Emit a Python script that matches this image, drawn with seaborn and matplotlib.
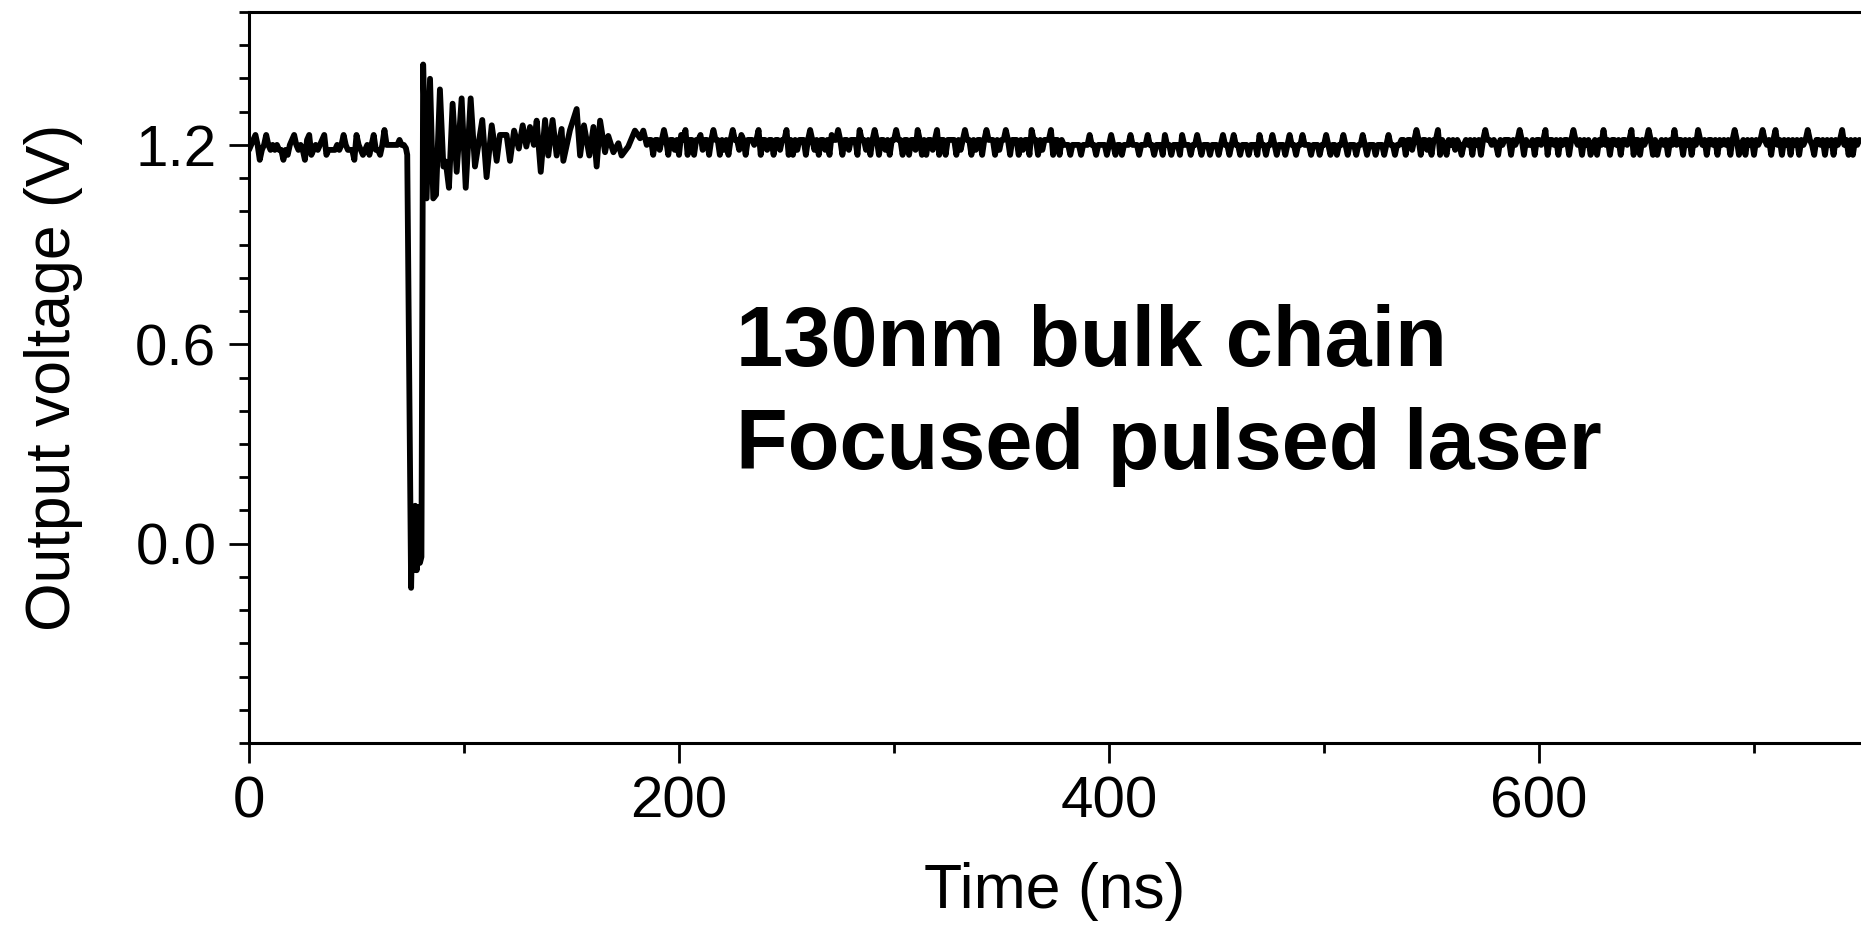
import numpy as np
import pandas as pd
import matplotlib
matplotlib.use("Agg")
import matplotlib.pyplot as plt
from matplotlib.ticker import MultipleLocator, FixedLocator
import seaborn as sns

# ---------------------------------------------------------------------------
# Oscilloscope record of the inverter-chain output (V) versus time (ns)
# Quiet baseline is stored as quantised levels, one character per ns:
#   level d  ->  1.155 + 0.015 * d  volts
# ---------------------------------------------------------------------------
LEVEL_BASE = 1.155
LEVEL_STEP = 0.015

pre_levels = (
    "2345302353" "2323220213" "4532320451" "2323451222"
    "2323532220" "5321231352" "2136333333" "433"
)  # t = 0 ... 72 ns

# Strike transient: drop, ringing and recovery
event_t = [73.0, 73.6, 75.4, 76.0, 76.6, 77.3, 78.0, 78.8, 79.5, 80.2,
           81.0, 82.6, 84.2, 85.7, 87.0, 88.8, 90.4, 91.5, 93.0, 94.7,
           96.6, 98.9, 100.8, 103.1, 105.1, 108.5, 110.5, 112.9, 115.2, 116.7,
           119.8, 121.4, 123.3, 125.5, 127.3, 129.0, 130.7, 132.5, 133.8, 135.7,
           137.7, 139.2, 141.2, 143.1, 145.4, 146.2, 149.3, 152.4, 154.0, 155.8,
           158.3, 160.2, 161.7, 163.3, 165.6, 167.1, 169.5, 171.8, 173.3, 176.4,
           179.5, 181.9, 183.4, 185.0]
event_v = [1.19, 1.17, -0.133, 0.071, -0.08, 0.114, -0.08, 0.11, -0.058, -0.04,
           1.442, 1.039, 1.399, 1.039, 1.05, 1.367, 1.135, 1.15, 1.071, 1.324,
           1.119, 1.34, 1.071, 1.34, 1.135, 1.275, 1.103, 1.259, 1.152, 1.23,
           1.23, 1.152, 1.243, 1.189, 1.259, 1.195, 1.254, 1.20, 1.273, 1.119,
           1.275, 1.168, 1.275, 1.168, 1.248, 1.152, 1.245, 1.308, 1.168, 1.259,
           1.168, 1.254, 1.135, 1.273, 1.178, 1.227, 1.178, 1.205, 1.168, 1.195,
           1.243, 1.22, 1.243, 1.20]

post_levels = (
    # 186 - 235
    "4414424641" "4424154614" "4144524414" "6441424146" "4425414443"
    # 236 - 285
    "4614424414" "4244614142" "4441464241" "4424154464" "1442444164"
    # 286 - 335
    "4241464144" "2414464414" "4144264141" "4424614414" "4441424644"
    # 336 - 385
    "1424414644" "4142446414" "4414244164" "4142444614" "4143331333"
    # 386 - 435
    "3133353313" "3331353133" "1333533313" "3353313331" "5331333153"
    # 436 - 485
    "3313353133" "3133313533" "1353313331" "3331533133" "5313331353"
    # 486 - 535
    "3133533313" "3313353133" "1335313331" "3353133313" "3313533133"
    # 536 - 585
    "4414424641" "4424144614" "3143424313" "4341434146" "4434314344"
    # 586 - 635
    "4143464143" "3414434614" "4341434414" "6434143413" "4143634144"
    # 636 - 685
    "3414434614" "4143464141" "3434143634" "4143414364" "3414434143"
    # 686 - 735
    "4341464134" "1434143464" "3414634143" "4143414346" "4314434143"
    # 736 - 749
    "41434634141434"
)
PRE_START = 0
POST_START = 186

x_ticks = [0, 200, 400, 600]
y_ticks = [0.0, 0.6, 1.2]
y_tick_labels = ["0.0", "0.6", "1.2"]
x_label = "Time (ns)"
y_label = "Output voltage (V)"
note_lines = ["130nm bulk chain", "Focused pulsed laser"]


def levels_to_volts(levels):
    return LEVEL_BASE + LEVEL_STEP * np.array([int(c) for c in levels], dtype=float)


t_pre = PRE_START + np.arange(len(pre_levels), dtype=float)
t_post = POST_START + np.arange(len(post_levels), dtype=float)

df = pd.DataFrame({
    "time": np.concatenate([t_pre, np.array(event_t), t_post]),
    "voltage": np.concatenate([levels_to_volts(pre_levels), np.array(event_v),
                               levels_to_volts(post_levels)]),
})

# ---------------------------------------------------------------------------
sns.set_style("ticks")
plt.rcParams["font.family"] = ["Liberation Sans", "DejaVu Sans"]
plt.rcParams["text.color"] = "black"
plt.rcParams["axes.labelcolor"] = "black"

W, H, DPI = 1861, 926, 100
fig = plt.figure(figsize=(W / DPI, H / DPI), dpi=DPI)
ax = fig.add_axes([249 / W, 1 - 743 / H, 1 - 249 / W, (743 - 12) / H])

sns.lineplot(data=df, x="time", y="voltage", ax=ax, color="black",
             linewidth=4.2, estimator=None, sort=False,
             solid_joinstyle="round", solid_capstyle="round")

ax.set_xlim(0, (W - 249) / 430 * 200)
ax.set_ylim(-0.6, 1.6)

ax.xaxis.set_major_locator(FixedLocator(x_ticks))
ax.xaxis.set_minor_locator(MultipleLocator(100))
ax.yaxis.set_major_locator(FixedLocator(y_ticks))
ax.set_yticklabels(y_tick_labels)
ax.yaxis.set_minor_locator(MultipleLocator(0.1))

ax.tick_params(axis="both", which="major", direction="out", length=14.5,
               width=2.0, labelsize=42, pad=9, color="black", labelcolor="black")
ax.tick_params(axis="both", which="minor", direction="out", length=7.5,
               width=2.0, color="black")

for side in ("left", "bottom", "top"):
    ax.spines[side].set_linewidth(2.2)
    ax.spines[side].set_color("black")
ax.spines["right"].set_visible(False)

ax.set_xlabel(x_label, fontsize=45, color="black")
ax.set_ylabel(y_label, fontsize=45, color="black")
ax.xaxis.set_label_coords(0.5, -0.163)
ax.yaxis.set_label_coords(-0.103, 0.5)

ax.text(736 / W, 1 - 366 / H, note_lines[0], transform=fig.transFigure,
        fontsize=61, fontweight="bold", ha="left", va="baseline", color="black")
ax.text(736 / W, 1 - 469 / H, note_lines[1], transform=fig.transFigure,
        fontsize=61, fontweight="bold", ha="left", va="baseline", color="black")

fig.savefig("out.png", dpi=DPI, facecolor="white")
